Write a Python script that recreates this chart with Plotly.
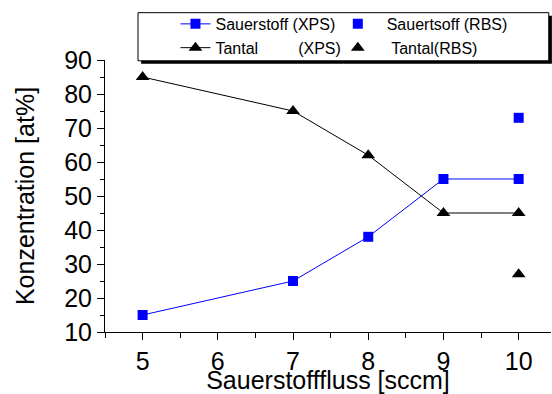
import plotly.graph_objects as go

# Oxygen flow [sccm] and measured concentrations [at%]
flow_xps = [5, 7, 8, 9, 10]
oxygen_xps = [15, 25, 38, 55, 55]
tantal_xps = [85, 75, 62, 45, 45]

flow_rbs = [10]
oxygen_rbs = [73]
tantal_rbs = [27]

x_ticks = [5, 6, 7, 8, 9, 10]
y_ticks = [10, 20, 30, 40, 50, 60, 70, 80, 90]

BLUE = "#0000ff"
BLACK = "#000000"
NB = "\u00a0"
FONT = "Arial, Liberation Sans, sans-serif"

fig = go.Figure()
fig.add_trace(go.Scatter(
    x=flow_xps, y=oxygen_xps, mode="lines+markers",
    name="Sauerstoff (XPS)", legend="legend",
    line=dict(color=BLUE, width=1),
    marker=dict(symbol="square", size=10, color=BLUE),
))
fig.add_trace(go.Scatter(
    x=flow_xps, y=tantal_xps, mode="lines+markers",
    name="Tantal" + NB * 9 + "(XPS)", legend="legend",
    line=dict(color=BLACK, width=1),
    marker=dict(symbol="triangle-up", size=12, color=BLACK),
))
fig.add_trace(go.Scatter(
    x=flow_rbs, y=oxygen_rbs, mode="markers",
    name=NB * 2 + "Sauertsoff (RBS)", legend="legend2",
    marker=dict(symbol="square", size=10, color=BLUE),
))
fig.add_trace(go.Scatter(
    x=flow_rbs, y=tantal_rbs, mode="markers",
    name=NB * 3 + "Tantal(RBS)", legend="legend2",
    marker=dict(symbol="triangle-up", size=12, color=BLACK),
))

axis_common = dict(
    showline=True, linecolor=BLACK, linewidth=1,
    ticks="outside", ticklen=7, tickwidth=1, tickcolor=BLACK,
    showgrid=False, zeroline=False, mirror=False,
    tickfont=dict(family=FONT, size=25, color=BLACK),
)

legend_common = dict(
    orientation="v", xanchor="left", yanchor="top", y=1.195,
    bgcolor="rgba(0,0,0,0)", borderwidth=0, tracegroupgap=0,
    font=dict(family=FONT, size=16, color=BLACK),
)

fig.update_layout(
    width=552, height=394,
    margin=dict(l=105, r=1, t=60, b=59),
    paper_bgcolor="white", plot_bgcolor="white",
    font=dict(family=FONT, color=BLACK),
    xaxis=dict(
        range=[4.5, 10.43], tickvals=x_ticks,
        minor=dict(dtick=0.5, tick0=4.5, ticks="outside", ticklen=5, tickcolor=BLACK),
        title=dict(text="Sauerstofffluss [sccm]", font=dict(family=FONT, size=25), standoff=0),
        **axis_common,
    ),
    yaxis=dict(
        range=[10, 90], tickvals=y_ticks,
        minor=dict(dtick=5, tick0=10, ticks="outside", ticklen=4, tickcolor=BLACK),
        title=dict(text="Konzentration [at%]", font=dict(family=FONT, size=25), standoff=22),
        **axis_common,
    ),
    showlegend=True,
    legend=dict(x=0.158, **legend_common),
    legend2=dict(x=0.522, **legend_common),
    shapes=[
        # legend frame with drop shadow
        dict(type="rect", xref="paper", yref="paper",
             x0=0.081, x1=1.002, y0=0.986, y1=1.163,
             fillcolor=BLACK, line=dict(width=0), layer="above"),
        dict(type="rect", xref="paper", yref="paper",
             x0=0.074, x1=0.995, y0=0.997, y1=1.174,
             fillcolor="white", line=dict(color=BLACK, width=1), layer="above"),
    ],
)

fig.write_html("out.html")
